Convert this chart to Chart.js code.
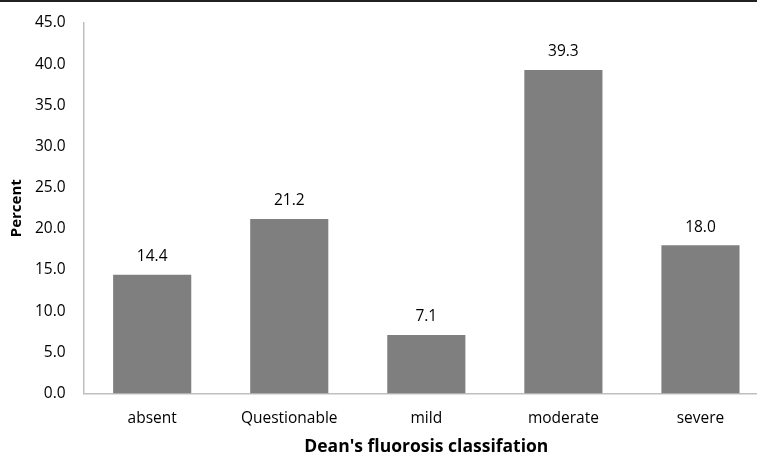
<!DOCTYPE html>
<html>
<head>
<meta charset="utf-8">
<script src="https://cdn.jsdelivr.net/npm/chart.js@4.4.0/dist/chart.umd.min.js"></script>
<style>
  html, body { margin: 0; padding: 0; background: #fff; overflow: hidden; }
  /* the original figure is cut off on the right, so the chart runs past the window */
  #wrap { width: 769px; height: 451px; border-top: 2px solid #222; position: relative; }
</style>
</head>
<body>
<div id="wrap"><canvas id="chart1"></canvas></div>
<script>
const categories = ['absent', 'Questionable', 'mild', 'moderate', 'severe'];
const percentValues = [14.4, 21.2, 7.1, 39.3, 18.0];
const yTicks = [0, 5, 10, 15, 20, 25, 30, 35, 40, 45];

// labels above each bar
const barLabels = {
    id: 'barLabels',
    afterDatasetsDraw(chart) {
        const ctx = chart.ctx;
        const meta = chart.getDatasetMeta(0);
        ctx.save();
        ctx.font = '15.5px "Open Sans", sans-serif';
        ctx.fillStyle = '#000';
        ctx.textAlign = 'center';
        ctx.textBaseline = 'middle';
        meta.data.forEach((bar, i) => {
            ctx.fillText(percentValues[i].toFixed(1), bar.x, bar.y - 18);
        });
        ctx.restore();
    }
};

const ctx = document.getElementById('chart1').getContext('2d');
new Chart(ctx, {
    type: 'bar',
    data: {
        labels: categories,
        datasets: [{
            data: percentValues,
            backgroundColor: '#7f7f7f',
            borderWidth: 0,
            barPercentage: 0.57,
            categoryPercentage: 1
        }]
    },
    options: {
        responsive: true,
        maintainAspectRatio: false,
        animation: false,
        layout: { padding: { top: 0, right: 0, left: 8, bottom: 0 } },
        plugins: { legend: { display: false }, tooltip: { enabled: false } },
        scales: {
            x: {
                grid: { display: false, drawTicks: false },
                border: { color: '#bfbfbf', width: 1.5 },
                ticks: { color: '#000', padding: 16, font: { family: '"Open Sans", sans-serif', size: 15.5 } },
                title: {
                    display: true,
                    text: "Dean's fluorosis classifation",
                    color: '#000',
                    padding: { top: -7, bottom: -5 },
                    font: { family: '"Open Sans", sans-serif', size: 17.5, weight: 'bold' }
                }
            },
            y: {
                min: 0,
                max: 45,
                afterBuildTicks(scale) {
                    scale.ticks = yTicks.map(v => ({ value: v }));
                },
                afterFit(scale) {
                    // keep the top of the axis close to the frame
                    scale.paddingTop = 21;
                },
                grid: { display: false, drawTicks: false },
                border: { color: '#bfbfbf', width: 1.5 },
                ticks: {
                    color: '#000',
                    padding: 18,
                    font: { family: '"Open Sans", sans-serif', size: 15.5 },
                    callback: v => Number(v).toFixed(1)
                },
                title: {
                    display: true,
                    text: 'Percent',
                    color: '#000',
                    padding: { top: 0, bottom: -9 },
                    font: { family: '"Open Sans", sans-serif', size: 15, weight: 'bold' }
                }
            }
        }
    },
    plugins: [barLabels]
});
</script>
</body>
</html>
